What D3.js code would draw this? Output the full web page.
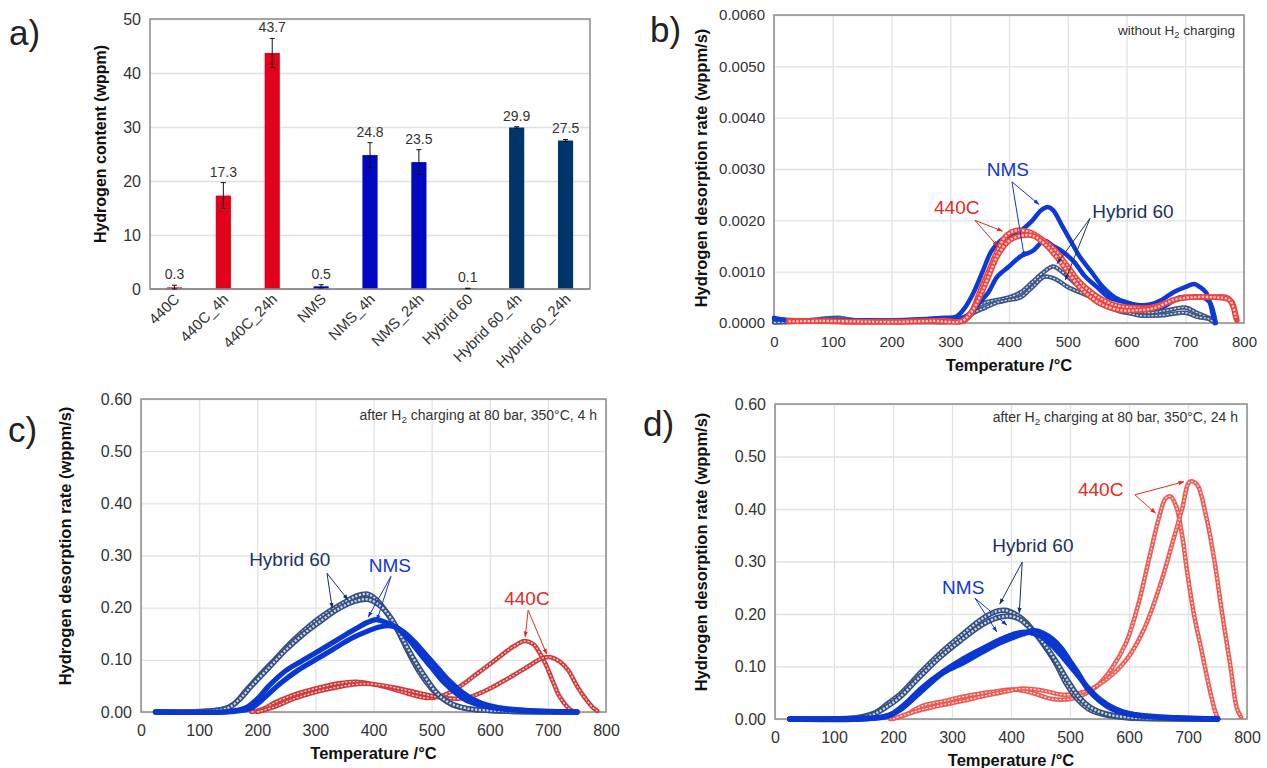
<!DOCTYPE html>
<html>
<head>
<meta charset="utf-8">
<script src="https://cdn.jsdelivr.net/npm/d3@7"></script>
<style>
  body { margin: 0; background: #fff; }
  text { font-family: "Liberation Sans", Arial, sans-serif; }
</style>
</head>
<body>
<svg id="fig" width="1267" height="768"></svg>
<script>
// ---- panel a data ----
const barCats = ["440C", "440C_4h", "440C_24h", "NMS", "NMS_4h", "NMS_24h", "Hybrid 60", "Hybrid 60_4h", "Hybrid 60_24h"];
const barGroup = ["440C", "440C", "440C", "NMS", "NMS", "NMS", "Hybrid", "Hybrid", "Hybrid"];
const barVals = [0.3, 17.3, 43.7, 0.5, 24.8, 23.5, 0.1, 29.9, 27.5];
const barErr = [0.4, 2.4, 2.7, 0.3, 2.3, 2.3, 0.05, 0.15, 0.2];
const contentTicks = [0, 10, 20, 30, 40, 50];

// ---- TDS temperature ticks ----
const tempTicks = [0, 100, 200, 300, 400, 500, 600, 700, 800];
const rateTicksB = [0, 0.001, 0.002, 0.003, 0.004, 0.005, 0.006];
const rateTicksCD = [0, 0.1, 0.2, 0.3, 0.4, 0.5, 0.6];

// ---- panel b: without charging, [T, rate] ----
const bNmsA = [[0,0.0001],[20,0.00006],[60,0.00005],[100,0.00006],[140,0.00005],[180,0.00005],[220,0.00006],[260,0.00008],[290,0.0001],[310,0.00012],[325,0.0003],[340,0.0006],[355,0.001],[370,0.0014],[385,0.0016],[400,0.0017],[420,0.0018],[440,0.002],[455,0.0022],[466,0.00226],[475,0.0022],[490,0.0019],[505,0.0016],[520,0.0013],[540,0.001],[560,0.0007],[580,0.0005],[600,0.0004],[620,0.00035],[640,0.00036],[660,0.00045],[680,0.0006],[700,0.0007],[715,0.00076],[725,0.0007],[735,0.0006],[742,0.0004],[748,0.0001]];
const bNmsB = [[0,0.00008],[40,0.00005],[100,0.00005],[200,0.00005],[280,0.00007],[320,0.0001],[335,0.0002],[350,0.0004],[365,0.0006],[380,0.0009],[400,0.0011],[420,0.0013],[440,0.0014],[460,0.0016],[475,0.0015],[490,0.0014],[510,0.0012],[530,0.0009],[550,0.0007],[570,0.0005],[600,0.0004],[630,0.0003],[660,0.0003],[690,0.0005],[710,0.0005],[730,0.0005],[742,0.0004],[748,0.0002],[752,0]];
const b440A = [[25,0.00005],[60,0.00004],[100,0.00003],[140,0.00002],[180,0.00003],[210,0.00003],[260,0.00004],[290,0.00005],[320,0.00003],[330,0.0001],[340,0.0003],[350,0.0006],[365,0.001],[380,0.0014],[395,0.0017],[410,0.0018],[425,0.0018],[440,0.00175],[460,0.0016],[480,0.0014],[500,0.0011],[520,0.0008],[540,0.0006],[560,0.00045],[580,0.00035],[610,0.0003],[640,0.0003],[670,0.0004],[700,0.0005],[740,0.0005],[770,0.0005],[780,0.0004],[785,0.0002],[788,0.00005]];
const b440B = [[25,0.00003],[80,0.00004],[140,0.00003],[200,0.00002],[270,0.00004],[320,0.00004],[335,0.0002],[350,0.0005],[365,0.0009],[380,0.0013],[400,0.0016],[420,0.0017],[440,0.0017],[460,0.00155],[480,0.0013],[500,0.001],[520,0.0007],[540,0.0005],[560,0.00035],[590,0.00025],[620,0.00025],[650,0.0003],[680,0.00045],[710,0.0005],[750,0.0005],[775,0.00045],[782,0.0003],[786,0.0001]];
const bHybA = [[0,0.00002],[40,0.00003],[80,0.00008],[110,0.0001],[140,0.00005],[200,0.00003],[250,0.00002],[300,0.00003],[330,0.0001],[345,0.0003],[360,0.0004],[380,0.00045],[400,0.0005],[420,0.0006],[440,0.0008],[460,0.001],[475,0.0011],[490,0.001],[510,0.0008],[530,0.0006],[550,0.0004],[570,0.0003],[600,0.0002],[640,0.0002],[670,0.00025],[700,0.0003],[720,0.0002],[740,0.0001],[750,0.00005]];
const bHybB = [[0,0.00001],[60,0.00004],[100,0.00007],[130,0.00006],[180,0.00003],[250,0.00002],[320,0.00005],[340,0.0002],[360,0.0003],[380,0.0004],[400,0.00045],[420,0.0005],[440,0.0007],[460,0.0009],[480,0.00085],[500,0.0007],[520,0.0006],[540,0.0005],[560,0.0004],[590,0.00025],[620,0.00015],[660,0.00015],[700,0.0002],[720,0.00012],[740,0.00008],[750,0]];

// ---- panel c: 4 h charging ----
const cHybA = [[25,0],[100,0.001],[140,0.005],[160,0.015],[180,0.04],[200,0.065],[230,0.1],[260,0.135],[290,0.165],[320,0.19],[350,0.21],[370,0.222],[390,0.226],[405,0.215],[420,0.195],[440,0.16],[460,0.115],[480,0.075],[500,0.045],[520,0.025],[540,0.012],[570,0.005],[620,0.002],[750,0]];
const cHybB = [[25,0],[120,0.002],[150,0.008],[170,0.025],[190,0.05],[220,0.085],[250,0.12],[280,0.15],[310,0.175],[340,0.198],[370,0.213],[390,0.216],[410,0.205],[430,0.18],[450,0.14],[470,0.1],[490,0.065],[510,0.035],[530,0.018],[560,0.007],[620,0.002],[750,0]];
const cNmsA = [[25,0],[150,0.001],[180,0.008],[200,0.025],[220,0.05],[250,0.08],[280,0.1],[310,0.12],[340,0.14],[370,0.16],[390,0.172],[405,0.177],[420,0.172],[440,0.162],[460,0.14],[480,0.112],[500,0.085],[520,0.058],[540,0.038],[560,0.022],[600,0.009],[650,0.003],[700,0.001],[750,0]];
const cNmsB = [[25,0],[160,0.001],[190,0.008],[210,0.025],[240,0.055],[270,0.08],[300,0.1],[330,0.12],[360,0.14],[390,0.155],[410,0.163],[430,0.165],[450,0.155],[470,0.135],[490,0.11],[510,0.085],[530,0.06],[550,0.04],[570,0.025],[600,0.012],[650,0.004],[750,0]];
const c440A = [[190,0],[210,0.006],[230,0.018],[260,0.032],[300,0.045],[340,0.055],[370,0.058],[400,0.053],[430,0.045],[460,0.035],[490,0.027],[520,0.032],[550,0.05],[580,0.075],[610,0.1],[640,0.125],[660,0.136],[675,0.13],[690,0.105],[700,0.082],[710,0.055],[720,0.03],[735,0.008],[745,0]];
const c440B = [[200,0],[230,0.01],[260,0.024],[300,0.038],[340,0.048],[380,0.054],[410,0.052],[440,0.046],[480,0.036],[520,0.027],[560,0.027],[600,0.045],[640,0.07],[670,0.09],[690,0.103],[705,0.105],[720,0.097],[735,0.08],[750,0.05],[765,0.025],[778,0.008],[785,0.002]];

// ---- panel d: 24 h charging ----
const dHybA = [[25,0],[120,0.001],[150,0.005],[170,0.012],[190,0.028],[215,0.05],[250,0.092],[285,0.13],[320,0.163],[350,0.19],[375,0.205],[390,0.207],[410,0.198],[425,0.185],[440,0.165],[455,0.142],[475,0.108],[495,0.065],[515,0.035],[535,0.017],[560,0.008],[600,0.002],[650,0.001],[750,0]];
const dHybB = [[25,0],[140,0.002],[165,0.008],[185,0.02],[210,0.04],[245,0.08],[280,0.118],[315,0.15],[345,0.175],[370,0.19],[395,0.196],[415,0.19],[435,0.17],[455,0.145],[475,0.112],[495,0.075],[515,0.042],[535,0.022],[560,0.01],[600,0.003],[750,0]];
const dNmsA = [[25,0],[150,0.001],[190,0.005],[215,0.02],[250,0.055],[285,0.088],[320,0.108],[350,0.127],[385,0.147],[420,0.162],[440,0.168],[455,0.163],[470,0.152],[485,0.135],[500,0.11],[515,0.085],[530,0.058],[550,0.035],[570,0.02],[595,0.011],[630,0.005],[680,0.002],[750,0]];
const dNmsB = [[25,0],[160,0.001],[195,0.008],[220,0.028],[250,0.06],[285,0.09],[320,0.115],[350,0.133],[380,0.15],[410,0.163],[430,0.165],[450,0.158],[470,0.14],[490,0.115],[510,0.088],[530,0.06],[550,0.038],[575,0.02],[600,0.01],[650,0.004],[750,0]];
const d440A = [[195,0],[215,0.005],[250,0.025],[290,0.035],[320,0.043],[370,0.052],[405,0.056],[435,0.05],[470,0.038],[500,0.038],[520,0.045],[545,0.062],[570,0.095],[595,0.145],[615,0.215],[635,0.31],[650,0.38],[662,0.42],[670,0.424],[680,0.405],[690,0.35],[698,0.285],[710,0.2],[724,0.125],[738,0.05],[748,0.008],[752,0]];
const d440B = [[200,0],[220,0.008],[250,0.018],[285,0.027],[320,0.035],[355,0.044],[390,0.052],[420,0.058],[455,0.054],[490,0.046],[525,0.052],[560,0.074],[595,0.112],[625,0.17],[655,0.263],[676,0.345],[690,0.4],[703,0.452],[715,0.447],[730,0.39],[745,0.3],[758,0.2],[772,0.1],[783,0.02],[790,0.004]];

// ---- label / arrow positions, data coords: [name, labelT, labelV, fromT, fromV, [[toT,toV],...]] ----
const bLabels = [
  ["NMS", 398, 0.00299, 405, 0.00275, [[451, 0.00231], [426, 0.00129]]],
  ["440C", 311, 0.00226, 342, 0.0020, [[389, 0.00179], [381, 0.00149]]],
  ["Hybrid 60", 611, 0.00218, 538, 0.00204, [[482, 0.00116], [496, 0.00084]]]
];
const cLabels = [
  ["Hybrid 60", 256, 0.293, 320, 0.266, [[329, 0.199], [356, 0.215]]],
  ["NMS", 428, 0.282, 430, 0.26, [[391, 0.182], [406, 0.176]]],
  ["440C", 664, 0.218, 666, 0.195, [[661, 0.144], [698, 0.111]]]
];
const dLabels = [
  ["440C", 552, 0.438, 610, 0.427, [[693, 0.452], [645, 0.392]]],
  ["Hybrid 60", 437, 0.330, 419, 0.299, [[381, 0.219], [414, 0.202]]],
  ["NMS", 319, 0.251, 339, 0.230, [[393, 0.179], [376, 0.166]]]
];

// ---- colours ----
const barColor = { "440C": "#e3001b", NMS: "#0008c2", Hybrid: "#00356c" };
const labelColor = { "440C": "#e52a22", NMS: "#1436d6", "Hybrid 60": "#1c3163" };

const svg = d3.select("#fig");

// arrowheads
const defs = svg.append("defs");
Object.entries(labelColor).forEach(([k, c], i) => {
  defs.append("marker")
    .attr("id", "arr" + i)
    .attr("viewBox", "0 0 10 10")
    .attr("refX", 9).attr("refY", 5)
    .attr("markerWidth", 6).attr("markerHeight", 6)
    .attr("orient", "auto-start-reverse")
    .append("path").attr("d", "M0,1.5 L10,5 L0,8.5 z").attr("fill", c);
});
const arrowId = { "440C": "arr0", NMS: "arr1", "Hybrid 60": "arr2" };

function panelLetter(txt, x, y) {
  svg.append("text").attr("x", x).attr("y", y)
    .attr("font-size", 35).attr("fill", "#222").text(txt);
}

// ================= panel a =================
(function drawBars() {
  const left = 150, right = 590, top = 19, bottom = 289;
  const x = d3.scaleBand().domain(barCats).range([left, right]).paddingInner(0.69).paddingOuter(0.345);
  const y = d3.scaleLinear().domain([0, 50]).range([bottom, top]);
  const g = svg.append("g");

  g.append("g").attr("transform", `translate(${left},0)`)
    .call(d3.axisLeft(y).tickValues(contentTicks).tickSize(-(right - left)).tickFormat(""))
    .call(a => a.select(".domain").remove())
    .call(a => a.selectAll("line").attr("stroke", "#e0e0e0").attr("stroke-width", 1.3));

  g.append("g").attr("transform", `translate(${left},0)`)
    .call(d3.axisLeft(y).tickValues(contentTicks).tickSize(0).tickPadding(9))
    .call(a => a.select(".domain").remove())
    .call(a => a.selectAll("text").attr("font-size", 16).attr("fill", "#333"));

  g.append("rect").attr("x", left).attr("y", top).attr("width", right - left).attr("height", bottom - top)
    .attr("fill", "none").attr("stroke", "#8c8c8c").attr("stroke-width", 1.5);

  g.selectAll(".bar").data(barVals).join("rect")
    .attr("x", (d, i) => x(barCats[i]))
    .attr("y", d => y(d))
    .attr("width", x.bandwidth())
    .attr("height", d => y(0) - y(d))
    .attr("fill", (d, i) => barColor[barGroup[i]]);

  g.append("line").attr("x1", left).attr("x2", right).attr("y1", bottom).attr("y2", bottom)
    .attr("stroke", "#8c8c8c").attr("stroke-width", 1.5);

  const cx = i => x(barCats[i]) + x.bandwidth() / 2;
  barVals.forEach((v, i) => {
    const lo = y(Math.max(0, v - barErr[i])), hi = y(v + barErr[i]);
    g.append("line").attr("x1", cx(i)).attr("x2", cx(i)).attr("y1", lo).attr("y2", hi)
      .attr("stroke", "#111").attr("stroke-width", 1);
    [lo, hi].forEach(yy => g.append("line").attr("x1", cx(i) - 2.5).attr("x2", cx(i) + 2.5)
      .attr("y1", yy).attr("y2", yy).attr("stroke", "#111").attr("stroke-width", 1));
    g.append("text").attr("x", cx(i)).attr("y", hi - 6).attr("text-anchor", "middle")
      .attr("font-size", 14).attr("fill", "#333").text(v.toFixed(1));
  });

  barCats.forEach((c, i) => {
    g.append("text")
      .attr("transform", `translate(${cx(i) + 6},${bottom + 11}) rotate(-45)`)
      .attr("text-anchor", "end").attr("font-size", 15).attr("fill", "#333").text(c);
  });

  g.append("text").attr("transform", `translate(100,${(top + bottom) / 2 - 10}) rotate(-90)`)
    .attr("text-anchor", "middle").attr("font-size", 16).attr("font-weight", "bold")
    .attr("fill", "#111").attr("dy", "0.35em").text("Hydrogen content (wppm)");

  panelLetter("a)", 9, 45);
})();

// ================= TDS panels =================
function drawSeries(g, x, y, pts, st) {
  const line = d3.line().x(d => x(d[0])).y(d => y(d[1])).curve(d3.curveCatmullRom.alpha(0.5));
  g.append("path").attr("d", line(pts)).attr("fill", "none")
    .attr("stroke", st.color).attr("stroke-width", st.w)
    .attr("stroke-linejoin", "round").attr("stroke-linecap", "round");
  if (st.inner) {
    g.append("path").attr("d", line(pts)).attr("fill", "none")
      .attr("stroke", st.inner).attr("stroke-width", Math.max(1, st.w - 3.2))
      .attr("stroke-dasharray", "2.2 1.6").attr("stroke-linejoin", "round");
  }
}

function tdsPanel(p) {
  const x = d3.scaleLinear().domain([0, 800]).range([p.left, p.right]);
  const y = d3.scaleLinear().domain([0, p.ymax]).range([p.bottom, p.top]);
  const g = svg.append("g");
  const w = p.right - p.left, h = p.bottom - p.top;

  g.append("g").attr("transform", `translate(${p.left},0)`)
    .call(d3.axisLeft(y).tickValues(p.yTicks).tickSize(-w).tickFormat(""))
    .call(a => a.select(".domain").remove())
    .call(a => a.selectAll("line").attr("stroke", "#e2e2e2").attr("stroke-width", 1.3));
  g.append("g").attr("transform", `translate(0,${p.bottom})`)
    .call(d3.axisBottom(x).tickValues(tempTicks).tickSize(-h).tickFormat(""))
    .call(a => a.select(".domain").remove())
    .call(a => a.selectAll("line").attr("stroke", "#e2e2e2").attr("stroke-width", 1.3));

  g.append("g").attr("transform", `translate(${p.left},0)`)
    .call(d3.axisLeft(y).tickValues(p.yTicks).tickSize(0).tickPadding(9).tickFormat(d3.format(p.fmt)))
    .call(a => a.select(".domain").remove())
    .call(a => a.selectAll("text").attr("font-size", p.tickSize).attr("fill", "#333"));
  g.append("g").attr("transform", `translate(0,${p.bottom})`)
    .call(d3.axisBottom(x).tickValues(tempTicks).tickSize(0).tickPadding(13))
    .call(a => a.select(".domain").remove())
    .call(a => a.selectAll("text").attr("font-size", p.tickSize).attr("fill", "#333"));

  g.append("rect").attr("x", p.left).attr("y", p.top).attr("width", w).attr("height", h)
    .attr("fill", "none").attr("stroke", "#8c8c8c").attr("stroke-width", 1.5);

  p.series.forEach(s => drawSeries(g, x, y, s[0], s[1]));

  p.labels.forEach(l => {
    const [name, lt, lv, ft, fv, targets] = l;
    targets.forEach(t => {
      g.append("line").attr("x1", x(ft)).attr("y1", y(fv)).attr("x2", x(t[0])).attr("y2", y(t[1]))
        .attr("stroke", labelColor[name]).attr("stroke-width", 1)
        .attr("marker-end", `url(#${arrowId[name]})`);
    });
    g.append("text").attr("x", x(lt)).attr("y", y(lv)).attr("text-anchor", "middle")
      .attr("dy", "0.35em").attr("font-size", 19).attr("fill", labelColor[name]).text(name);
  });

  const note = g.append("text").attr("x", p.right - 9).attr("y", p.noteY).attr("text-anchor", "end")
    .attr("font-size", p.noteSize).attr("fill", "#333");
  note.append("tspan").text(p.note[0]);
  note.append("tspan").attr("font-size", p.noteSize * 0.7).attr("dy", 3).text("2");
  note.append("tspan").attr("dy", -3).text(p.note[1]);

  g.append("text").attr("x", (p.left + p.right) / 2).attr("y", p.xTitleY).attr("text-anchor", "middle")
    .attr("font-size", 16.5).attr("font-weight", "bold").attr("fill", "#111").text("Temperature /°C");
  g.append("text").attr("transform", `translate(${p.yTitleX},${p.yTitleY}) rotate(-90)`)
    .attr("text-anchor", "middle").attr("dy", "0.35em").attr("font-size", 16.5)
    .attr("font-weight", "bold").attr("fill", "#111").text("Hydrogen desorption rate (wppm/s)");

  panelLetter(p.letter, p.letterX, p.letterY);
}

const st440b = { color: "#f2413c", inner: "#fcd3d0", w: 5.5 };
const stNmsb = { color: "#0b3ad8", w: 4.5 };
const stHybb = { color: "#3e5886", inner: "#d3d9e6", w: 4.5 };

tdsPanel({
  left: 774, right: 1244, top: 15, bottom: 323, ymax: 0.006, yTicks: rateTicksB, fmt: ".4f", tickSize: 15,
  series: [[bHybA, stHybb], [bHybB, stHybb], [bNmsA, stNmsb], [bNmsB, stNmsb], [b440A, st440b], [b440B, st440b]],
  labels: bLabels, note: ["without H", " charging"], noteY: 35, noteSize: 13.5,
  xTitleY: 371, yTitleX: 701, yTitleY: 168, letter: "b)", letterX: 650, letterY: 42
});

const st440c = { color: "#cf3a3a", inner: "#f6d2d0", w: 4.5 };
const stNmsc = { color: "#0a36d2", w: 5.2 };
const stHybc = { color: "#33507f", inner: "#cdd5e4", w: 5.5 };

tdsPanel({
  left: 141, right: 606, top: 399, bottom: 712, ymax: 0.6, yTicks: rateTicksCD, fmt: ".2f", tickSize: 16,
  series: [[c440A, st440c], [c440B, st440c], [cHybA, stHybc], [cHybB, stHybc], [cNmsA, stNmsc], [cNmsB, stNmsc]],
  labels: cLabels, note: ["after H", " charging at 80 bar, 350°C, 4 h"], noteY: 420, noteSize: 14,
  xTitleY: 759, yTitleX: 65, yTitleY: 546, letter: "c)", letterX: 8, letterY: 442
});

const st440d = { color: "#ec5a52", inner: "#fde0de", w: 4.5 };
const stNmsd = { color: "#0a36d2", w: 5.5 };
const stHybd = { color: "#33507f", inner: "#cdd5e4", w: 5.5 };

tdsPanel({
  left: 775, right: 1247, top: 404, bottom: 719, ymax: 0.6, yTicks: rateTicksCD, fmt: ".2f", tickSize: 16,
  series: [[d440A, st440d], [d440B, st440d], [dHybA, stHybd], [dHybB, stHybd], [dNmsA, stNmsd], [dNmsB, stNmsd]],
  labels: dLabels, note: ["after H", " charging at 80 bar, 350°C, 24 h"], noteY: 422, noteSize: 14,
  xTitleY: 766, yTitleX: 701, yTitleY: 552, letter: "d)", letterX: 643, letterY: 436
});
</script>
</body>
</html>
